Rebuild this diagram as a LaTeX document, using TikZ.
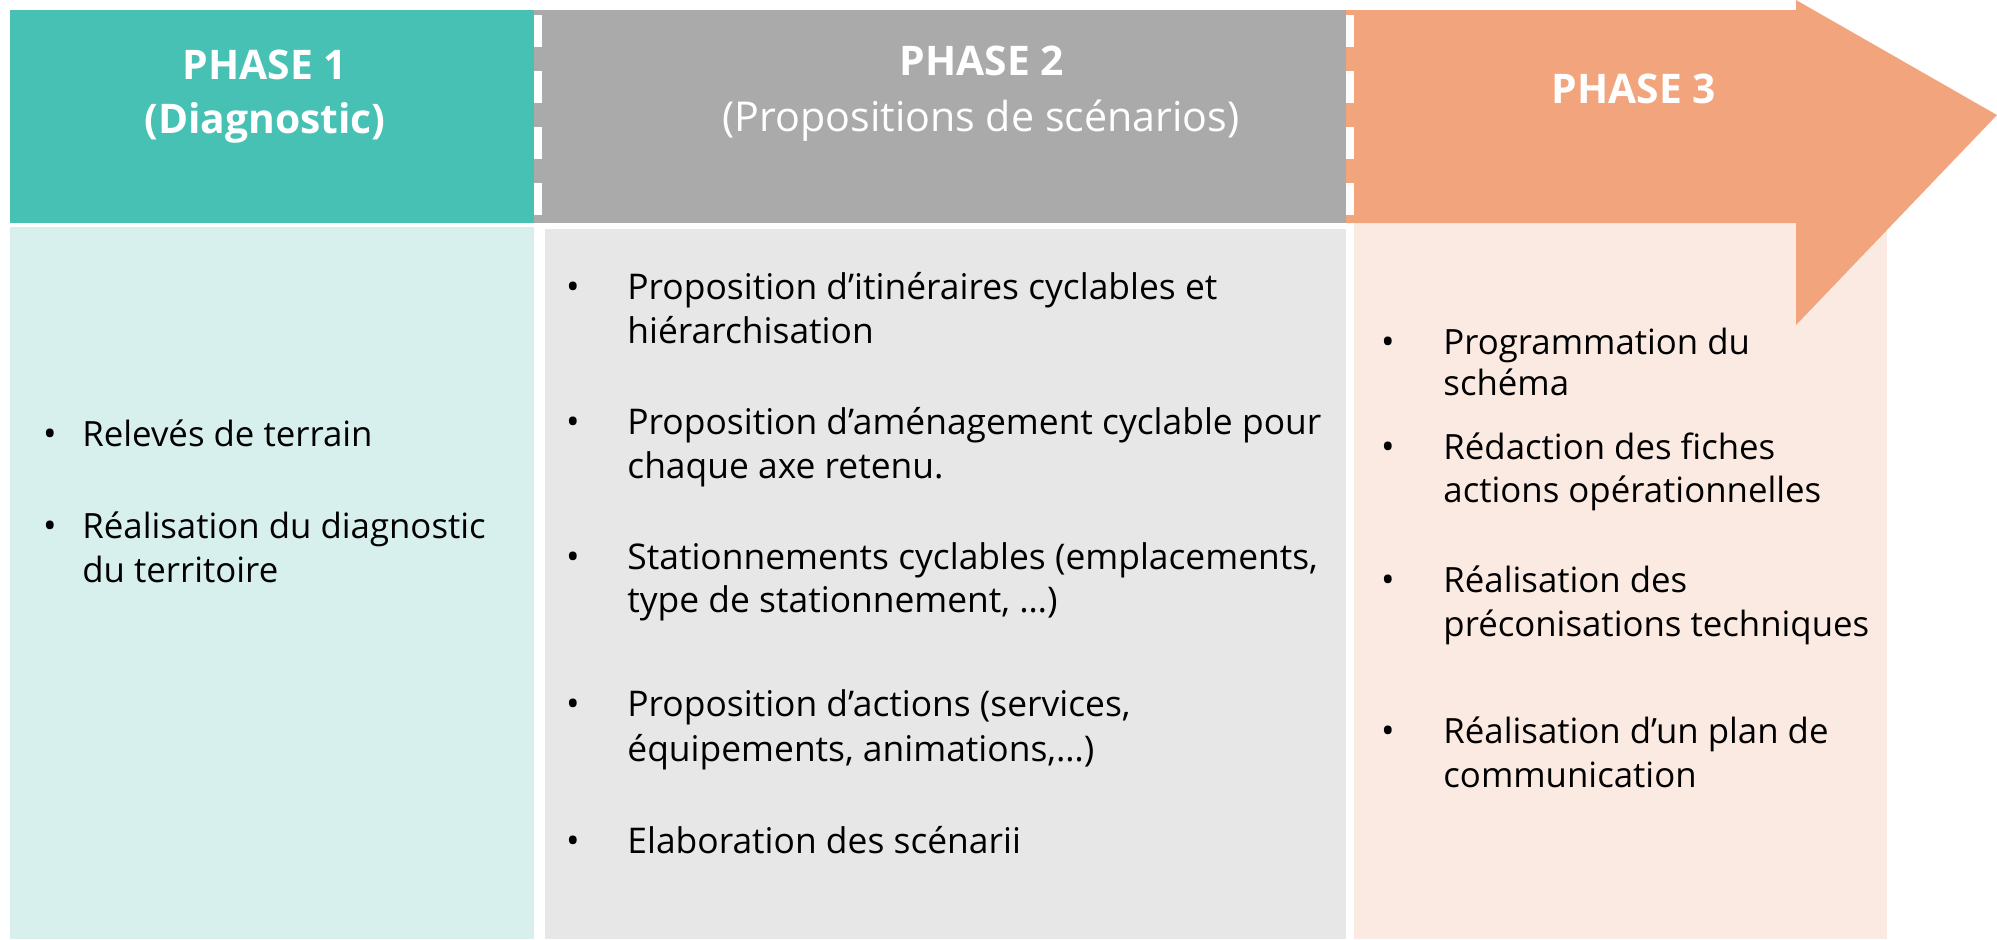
\documentclass[tikz,border=0pt]{standalone}
\usepackage{fontspec}
\setmainfont{Open Sans}
\definecolor{tealH}{RGB}{71,193,179}
\definecolor{tealL}{RGB}{216,240,237}
\definecolor{grayH}{RGB}{170,170,170}
\definecolor{grayL}{RGB}{231,231,231}
\definecolor{orH}{RGB}{242,164,124}
\definecolor{orL}{RGB}{251,234,226}
\tikzset{
  hdrb/.style={font=\fontsize{20.4}{24}\selectfont\bfseries, text=white, anchor=base, inner sep=0pt},
  hdrr/.style={font=\fontsize{20.6}{24}\selectfont, text=white, anchor=base, inner sep=0pt},
  bodytxt/.style={font=\fontsize{17.4}{21}\selectfont, text=black, anchor=base west, inner sep=0pt},
  bodytxtb/.style={bodytxt, font=\fontsize{17.7}{21}\selectfont},
  bul/.style={font=\fontsize{18}{21}\selectfont, text=black, anchor=base, inner sep=0pt},
  sepline/.style={white, line width=4pt, dash pattern=on 16pt off 12pt}
}
\begin{document}
\begin{tikzpicture}[x=0.5pt,y=-0.5pt]
\useasboundingbox (0,0) rectangle (1997,939);
% bodies
\fill[tealL] (10,227) rectangle (534,939);
\fill[grayL] (545,229) rectangle (1346,939);
\fill[orL] (1354,223) rectangle (1887,939);
% headers
\fill[tealH] (10,10) rectangle (534,223);
\fill[grayH] (534,10) rectangle (1346,223);
\fill[orH] (1346,10) -- (1796,10) -- (1796,0) -- (1997,115) -- (1796,325) -- (1796,223) -- (1346,223) -- cycle;
% dashed separators
\coordinate (s1a) at (538,15); \coordinate (s1b) at (538,223);
\coordinate (s2a) at (1350,15); \coordinate (s2b) at (1350,223);
\draw[sepline] (s1a) -- (s1b);
\draw[sepline] (s2a) -- (s2b);
% header texts
\node[hdrb] (h1a) at (265,79) {PHASE 1};
\node[hdrb] (h1b) at (265,133) {(Diagnostic)};
\node[hdrb] (h2a) at (982,75) {PHASE 2};
\node[hdrr] (h2b) at (981,131) {(Propositions de scénarios)};
\node[hdrb] (h3a) at (1634,103) {PHASE 3};
% phase 1 body
\node[bul] (b11) at (50,446) {•};
\node[bodytxt] (t11) at (82,446) {Relevés de terrain};
\node[bul] (b12) at (50,538) {•};
\node[bodytxt] (t12a) at (82,538) {Réalisation du diagnostic};
\node[bodytxt] (t12b) at (82,582) {du territoire};
% phase 2 body
\node[bul] (b21) at (573,299) {•};
\node[bodytxtb] (t21a) at (627,299) {Proposition d’itinéraires cyclables et};
\node[bodytxtb] (t21b) at (627,343) {hiérarchisation};
\node[bul] (b22) at (573,434) {•};
\node[bodytxtb] (t22a) at (627,434) {Proposition d’aménagement cyclable pour};
\node[bodytxtb] (t22b) at (627,478) {chaque axe retenu.};
\node[bul] (b23) at (573,569) {•};
\node[bodytxtb] (t23a) at (627,569) {Stationnements cyclables (emplacements,};
\node[bodytxtb] (t23b) at (627,612) {type de stationnement, …)};
\node[bul] (b24) at (573,716) {•};
\node[bodytxtb] (t24a) at (627,716) {Proposition d’actions (services,};
\node[bodytxtb] (t24b) at (627,761) {équipements, animations,…)};
\node[bul] (b25) at (573,853) {•};
\node[bodytxtb] (t25) at (627,853) {Elaboration des scénarii};
% phase 3 body
\node[bul] (b31) at (1388,354) {•};
\node[bodytxt] (t31a) at (1443,354) {Programmation du};
\node[bodytxt] (t31b) at (1443,395) {schéma};
\node[bul] (b32) at (1388,459) {•};
\node[bodytxt] (t32a) at (1443,459) {Rédaction des fiches};
\node[bodytxt] (t32b) at (1443,502) {actions opérationnelles};
\node[bul] (b33) at (1388,592) {•};
\node[bodytxt] (t33a) at (1443,592) {Réalisation des};
\node[bodytxt] (t33b) at (1443,636) {préconisations techniques};
\node[bul] (b34) at (1388,743) {•};
\node[bodytxt] (t34a) at (1443,743) {Réalisation d’un plan de};
\node[bodytxt] (t34b) at (1443,787) {communication};
\end{tikzpicture}
\end{document}
